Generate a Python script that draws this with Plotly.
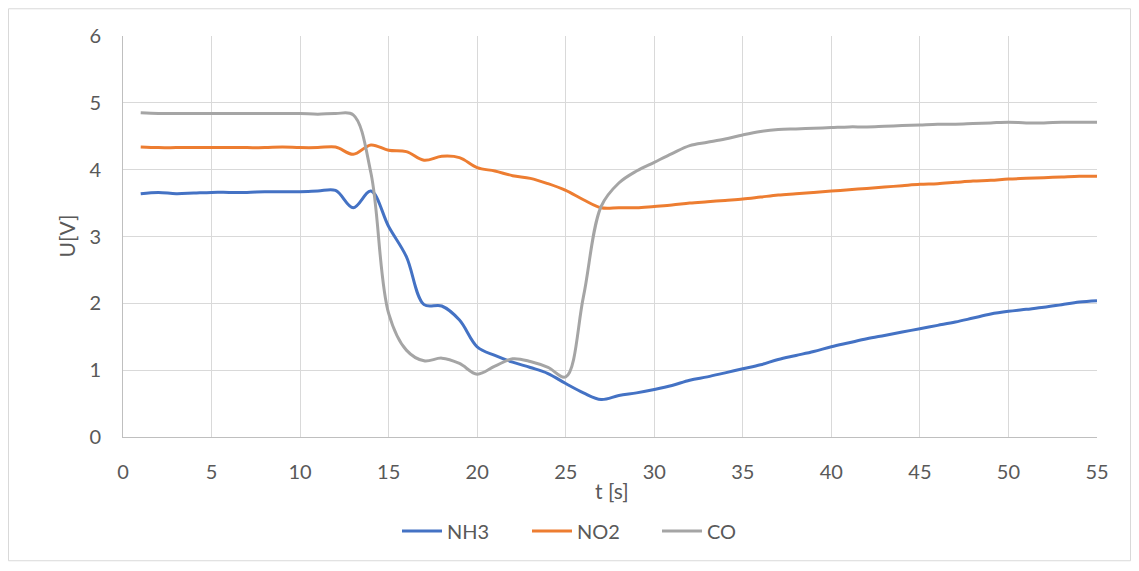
import plotly.graph_objects as go

t = list(range(1, 56))

nh3 = [3.64, 3.66, 3.64, 3.65, 3.66, 3.66, 3.66, 3.67, 3.67, 3.67, 3.68, 3.69, 3.43, 3.68, 3.15,
       2.70, 1.98, 1.96, 1.75, 1.35, 1.22, 1.12, 1.04, 0.95, 0.80, 0.66, 0.56, 0.62, 0.66, 0.71,
       0.77, 0.85, 0.90, 0.96, 1.02, 1.08, 1.16, 1.22, 1.28, 1.35, 1.41, 1.47, 1.52, 1.57, 1.62,
       1.67, 1.72, 1.78, 1.84, 1.88, 1.91, 1.94, 1.98, 2.02, 2.04]

no2 = [4.34, 4.33, 4.33, 4.33, 4.33, 4.33, 4.33, 4.33, 4.34, 4.33, 4.33, 4.34, 4.23, 4.37, 4.29,
       4.27, 4.14, 4.20, 4.18, 4.03, 3.98, 3.91, 3.87, 3.79, 3.69, 3.55, 3.43, 3.43, 3.43, 3.45,
       3.47, 3.50, 3.52, 3.54, 3.56, 3.59, 3.62, 3.64, 3.66, 3.68, 3.70, 3.72, 3.74, 3.76, 3.78,
       3.79, 3.81, 3.83, 3.84, 3.86, 3.87, 3.88, 3.89, 3.90, 3.90]

co = [4.85, 4.84, 4.84, 4.84, 4.84, 4.84, 4.84, 4.84, 4.84, 4.84, 4.83, 4.84, 4.82, 3.95, 1.85,
      1.30, 1.14, 1.18, 1.10, 0.94, 1.06, 1.17, 1.13, 1.04, 0.90, 2.10, 3.45, 3.80, 3.98, 4.11,
      4.24, 4.36, 4.41, 4.46, 4.52, 4.57, 4.60, 4.61, 4.62, 4.63, 4.64, 4.64, 4.65, 4.66, 4.67,
      4.68, 4.68, 4.69, 4.70, 4.71, 4.70, 4.70, 4.71, 4.71, 4.71]

series = [("NH3", nh3, "#4472C4"), ("NO2", no2, "#ED7D31"), ("CO", co, "#A5A5A5")]

x_ticks = list(range(0, 56, 5))
y_ticks = list(range(0, 7))

# page body has an 8px margin: figure coords = page coords - 8
W, H = 1123, 555
L, R, T, B = 115, 1089, 28, 433
PW, PH = R - L, B - T

fig = go.Figure()
for name, vals, col in series:
    fig.add_trace(go.Scatter(x=t, y=vals, name=name, mode="lines",
                             line=dict(color=col, width=3, shape="spline", smoothing=1)))

font = "Lato, Open Sans, sans-serif"
txt = "#595959"

fig.update_layout(
    width=W, height=H,
    margin=dict(l=L, r=W - R, t=T, b=H - B),
    paper_bgcolor="white", plot_bgcolor="white",
    font=dict(family=font, size=20, color=txt),
    showlegend=True,
    legend=dict(orientation="h", x=(584 - L) / PW, xanchor="center",
                y=(B - 528) / PH, yanchor="middle",
                font=dict(size=20, color=txt), itemwidth=40,
                entrywidth=75, entrywidthmode="pixels"),
    xaxis=dict(range=[0, 55], tickvals=x_ticks, showgrid=True, gridcolor="#d9d9d9", gridwidth=1,
               showline=True, linecolor="#bfbfbf", linewidth=1, zeroline=False,
               ticks="", ticklabelstandoff=17, tickfont=dict(size=20, color=txt)),
    yaxis=dict(range=[0, 6], tickvals=y_ticks, showgrid=True, gridcolor="#d9d9d9", gridwidth=1,
               showline=True, linecolor="#bfbfbf", linewidth=1, zeroline=False,
               ticks="", ticklabelstandoff=17, tickfont=dict(size=20, color=txt)),
    annotations=[
        dict(text="t [s]", xref="paper", yref="paper", x=(604 - L) / PW, y=(B - 487) / PH,
             xanchor="center", yanchor="middle", showarrow=False,
             font=dict(size=21, color=txt)),
        dict(text="U[V]", xref="paper", yref="paper", x=(58 - L) / PW, y=0.5,
             xanchor="center", yanchor="middle", textangle=-90, showarrow=False,
             font=dict(size=21, color=txt)),
    ],
    shapes=[
        dict(type="rect", xref="paper", yref="paper",
             x0=(0.5 - L) / PW, x1=(W - 0.5 - L) / PW,
             y0=(B - (H + 3)) / PH, y1=(B - 0.5) / PH,
             line=dict(color="#d9d9d9", width=1), fillcolor="rgba(0,0,0,0)", layer="below"),
    ],
)

fig.write_html("out.html")
